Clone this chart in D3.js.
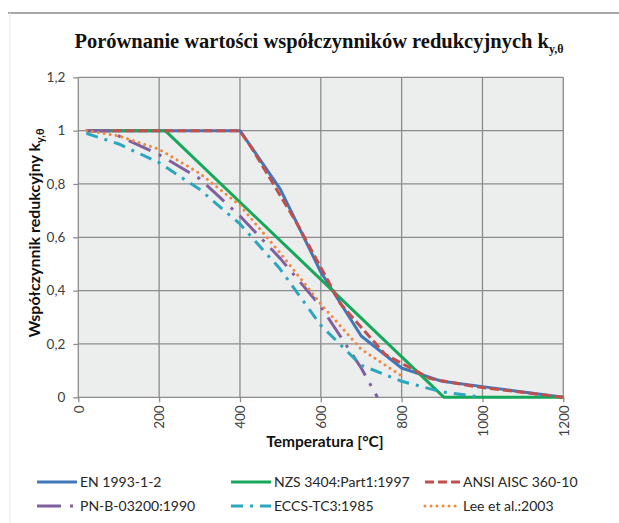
<!DOCTYPE html>
<html>
<head>
<meta charset="utf-8">
<script src="https://cdn.jsdelivr.net/npm/d3@7"></script>
<style>
  body { margin: 0; background: #fff; }
  text { font-family: Lato, "Noto Sans", sans-serif; }
</style>
</head>
<body>
<svg id="chart"></svg>
<script>
// Data
const xTicks = [0, 200, 400, 600, 800, 1000, 1200];
const yTicks = [0, 0.2, 0.4, 0.6, 0.8, 1, 1.2];

const enTemp = [20, 100, 200, 300, 400, 500, 600, 700, 800, 900, 1000, 1100, 1200];
const enK = [1, 1, 1, 1, 1, 0.78, 0.47, 0.23, 0.11, 0.06, 0.04, 0.02, 0];

const nzsTemp = [20, 215, 905, 1200];
const nzsK = [1, 1, 0, 0];

const ansiTemp = [20, 93, 204, 316, 399, 427, 538, 649, 760, 871, 982, 1093, 1200];
const ansiK = [1, 1, 1, 1, 1, 0.94, 0.66, 0.35, 0.16, 0.07, 0.04, 0.02, 0];

const pnTemp = [20, 80, 100, 200, 300, 400, 500, 600, 700, 740];
const pnK = [1, 1, 0.98, 0.91, 0.82, 0.68, 0.52, 0.34, 0.11, 0];

const eccsTemp = [20, 100, 200, 300, 400, 500, 600, 700, 800, 900, 1000];
const eccsK = [0.99, 0.95, 0.88, 0.78, 0.65, 0.48, 0.27, 0.12, 0.06, 0.02, 0];

const leeTemp = [20, 100, 200, 300, 400, 500, 600, 700, 800];
const leeK = [1, 0.98, 0.93, 0.84, 0.72, 0.54, 0.35, 0.18, 0.08];

const seriesNames = ['EN 1993-1-2', 'NZS 3404:Part1:1997', 'ANSI AISC 360-10',
                     'PN-B-03200:1990', 'ECCS-TC3:1985', 'Lee et al.:2003'];

// Styles per series
const styles = [
    { color: '#4077B8', dash: null, cap: 'butt' },
    { color: '#16A85A', dash: null, cap: 'butt' },
    { color: '#C0504D', dash: '9,4', cap: 'butt' },
    { color: '#7E5FA0', dash: '24,9,3,9', cap: 'butt' },
    { color: '#2AA6BE', dash: '12,7,3,7', cap: 'butt' },
    { color: '#F0883E', dash: '0.01,6', cap: 'round' }
];

const series = [
    [enTemp, enK], [nzsTemp, nzsK], [ansiTemp, ansiK],
    [pnTemp, pnK], [eccsTemp, eccsK], [leeTemp, leeK]
].map(([t, k], i) => ({
    name: seriesNames[i],
    style: styles[i],
    points: t.map((v, j) => ({ t: v, k: k[j] }))
}));

const width = 619;
const height = 523;

const svg = d3.select('#chart')
    .attr('width', width)
    .attr('height', height);

svg.append('rect').attr('width', width).attr('height', height).attr('fill', '#fff');

// Frame lines of the page
svg.append('line')
    .attr('x1', 8).attr('x2', width).attr('y1', 13).attr('y2', 13)
    .attr('stroke', '#8a8a8a').attr('stroke-width', 1.5);
svg.append('line')
    .attr('x1', 10).attr('x2', 10).attr('y1', 13).attr('y2', height)
    .attr('stroke', '#e4e4e4').attr('stroke-width', 1);

// Scales
const x = d3.scaleLinear().domain([0, 1200]).range([78.3, 563.3]);
const y = d3.scaleLinear().domain([0, 1.2]).range([397.3, 77.3]);

// Plot background
svg.append('rect')
    .attr('x', x(0)).attr('y', y(1.2))
    .attr('width', x(1200) - x(0)).attr('height', y(0) - y(1.2))
    .attr('fill', '#ECEDED');

const gridColor = '#8c8c8c';
const commaFmt = v => d3.format('')(v).replace('.', ',');

// Y axis with grid
const yAxis = svg.append('g')
    .attr('transform', `translate(${x(0)},0)`)
    .call(d3.axisLeft(y).tickValues(yTicks).tickSize(5).tickFormat(commaFmt));
yAxis.select('.domain').remove();
yAxis.selectAll('line').attr('stroke', gridColor).attr('stroke-width', 1.3);
yAxis.selectAll('text')
    .attr('x', -13)
    .attr('fill', '#404040')
    .style('font-size', '13.5px');
svg.append('g')
    .selectAll('line')
    .data(yTicks)
    .join('line')
    .attr('x1', x(0)).attr('x2', x(1200))
    .attr('y1', d => y(d)).attr('y2', d => y(d))
    .attr('stroke', gridColor).attr('stroke-width', 1.3);

// X axis with grid
const xAxis = svg.append('g')
    .attr('transform', `translate(0,${y(0)})`)
    .call(d3.axisBottom(x).tickValues(xTicks).tickSize(5).tickFormat(d3.format('')));
xAxis.select('.domain').remove();
xAxis.selectAll('line').attr('stroke', gridColor).attr('stroke-width', 1.3);
xAxis.selectAll('text')
    .attr('transform', 'rotate(-90)')
    .attr('x', -8)
    .attr('y', 0)
    .attr('dy', '0.35em')
    .attr('text-anchor', 'end')
    .attr('fill', '#404040')
    .style('font-size', '13.5px');
svg.append('g')
    .selectAll('line')
    .data(xTicks)
    .join('line')
    .attr('x1', d => x(d)).attr('x2', d => x(d))
    .attr('y1', y(0)).attr('y2', y(1.2))
    .attr('stroke', gridColor).attr('stroke-width', 1.3);

// Series lines
const line = d3.line().x(d => x(d.t)).y(d => y(d.k));
svg.append('g')
    .selectAll('path')
    .data(series)
    .join('path')
    .attr('d', d => line(d.points))
    .attr('fill', 'none')
    .attr('stroke', d => d.style.color)
    .attr('stroke-width', 3)
    .attr('stroke-dasharray', d => d.style.dash)
    .attr('stroke-linecap', d => d.style.cap)
    .attr('stroke-linejoin', 'round');

// Title
const title = svg.append('text')
    .attr('x', 319).attr('y', 48)
    .attr('text-anchor', 'middle')
    .style('font-family', '"Liberation Serif", "DejaVu Serif", serif')
    .style('font-weight', 'bold')
    .style('font-size', '20.5px')
    .attr('fill', '#111');
title.append('tspan').text('Porównanie wartości współczynników redukcyjnych k');
title.append('tspan').attr('dy', 5).style('font-size', '12px').text('y,θ');

// Axis titles
const yTitle = svg.append('text')
    .attr('transform', 'translate(40,233) rotate(-90)')
    .attr('text-anchor', 'middle')
    .style('font-weight', 'bold')
    .style('font-size', '16px')
    .attr('fill', '#111');
yTitle.append('tspan').text('Współczynnik redukcyjny k');
yTitle.append('tspan').attr('dy', 4).style('font-size', '11px').text('y,θ');

svg.append('text')
    .attr('x', 325).attr('y', 447)
    .attr('text-anchor', 'middle')
    .style('font-weight', 'bold')
    .style('font-size', '15.5px')
    .attr('fill', '#111')
    .text('Temperatura [°C]');

// Legend
const legendPos = [
    { x: 37, y: 482, len: 40 }, { x: 231, y: 482, len: 40 }, { x: 425, y: 482, len: 35 },
    { x: 37, y: 506, len: 40 }, { x: 231, y: 506, len: 40 }, { x: 425, y: 506, len: 35 }
];
const legend = svg.append('g')
    .selectAll('g')
    .data(series)
    .join('g')
    .attr('transform', (d, i) => `translate(${legendPos[i].x},${legendPos[i].y})`);
legend.append('line')
    .attr('x1', 0).attr('x2', (d, i) => legendPos[i].len)
    .attr('y1', 0).attr('y2', 0)
    .attr('stroke', d => d.style.color)
    .attr('stroke-width', 3)
    .attr('stroke-dasharray', d => d.style.dash)
    .attr('stroke-linecap', d => d.style.cap);
legend.append('text')
    .attr('x', (d, i) => legendPos[i].len + 3)
    .attr('y', 0)
    .attr('dy', '0.35em')
    .style('font-size', '14px')
    .attr('fill', '#262626')
    .text(d => d.name);
</script>
</body>
</html>
